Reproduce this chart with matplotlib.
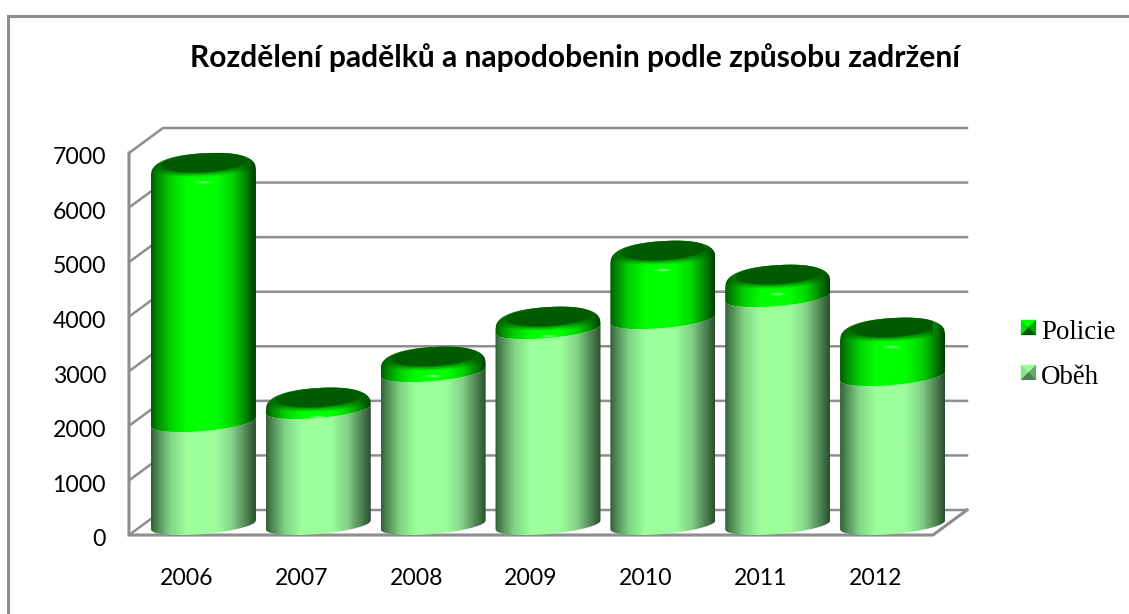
#!/usr/bin/python3
import numpy as np
import matplotlib
matplotlib.use('Agg')
import matplotlib.pyplot as plt
from matplotlib.colors import LinearSegmentedColormap
from matplotlib.legend_handler import HandlerBase
from matplotlib.patches import PathPatch, Patch, Polygon
from matplotlib.path import Path
from matplotlib.transforms import ScaledTranslation

years = ['2006', '2007', '2008', '2009', '2010', '2011', '2012']
obeh = [1886, 2125, 2802, 3590, 3773, 4176, 2729]
policie = [4614, 73, 147, 91, 1117, 274, 751]
yticks = [0, 1000, 2000, 3000, 4000, 5000, 6000, 7000]

W, H = 1129, 614
plt.rcParams['font.family'] = ['Lato', 'DejaVu Sans']

fig = plt.figure(figsize=(W / 100, H / 100), dpi=100, facecolor='white')
ax = fig.add_axes([129 / W, 1 - 535 / H, 804 / W, 382 / H])
ax.set_xlim(-0.5, 6.5)
ax.set_ylim(0, 7000)
for s in ax.spines.values():
    s.set_visible(False)

# pixel -> data
PX = 7 / 804
PY = 7000 / 382
depth_x = 34 * PX
depth_y = 25 * PY
bar_w = 105 * PX

GRID = '#8e8e8e'
ax.set_xticks(range(len(years)), years)
ax.set_yticks(yticks)
ax.tick_params(length=0, labelsize=16.6, colors='black')
ax.tick_params(axis='x', pad=24)
ax.tick_params(axis='y', pad=16.5)
# y labels sit a little under their gridline level
for lab in ax.get_yticklabels():
    lab.set_transform(lab.get_transform() + ScaledTranslation(0, -2 / 72, fig.dpi_scale_trans))

# walls
for v in yticks:
    xs = [-0.5, -0.5 + depth_x, 6.5 + depth_x]
    ys = [v, v + depth_y, v + depth_y]
    ax.plot(xs, ys, color=GRID, lw=1.8, clip_on=False, zorder=1)
ax.plot([-0.5, -0.5, 6.5, 6.5 + depth_x], [7000, 0, 0, depth_y], color=GRID, lw=2.2,
        clip_on=False, zorder=1, solid_joinstyle='miter')

# cylinder shading
stops = [0, 0.06, 0.18, 0.34, 0.62, 0.78, 0.92, 1]
dark_g = LinearSegmentedColormap.from_list('g', list(zip(stops, [
    '#005a00', '#008a00', '#00d000', '#00ff00', '#00ff00', '#00d400', '#007a00', '#003c00'])))
dark_l = LinearSegmentedColormap.from_list('l', list(zip(stops, [
    '#33603a', '#4f8a55', '#80d484', '#9cff9c', '#9cff9c', '#82cf86', '#4d7d50', '#2a4f2e'])))
shade = np.linspace(0, 1, 256)[None, :]

t = np.linspace(-1, 1, 161)


def curve(cx, v):
    # front edge of a slice, v is its lowest point
    return cx + t * bar_w / 2, v + (10 - 9 * np.sqrt(1 - t ** 2) + 4.5 * t) * PY


def cap_h(u):
    # height of the rounded top above the front edge, in px
    return 8 + 3 * u + 19 * np.clip(1 - np.abs(u) ** 2.4, 0, 1) ** (1 / 2.4)


def cap(cx, v):
    return cx + t * bar_w / 2, v + cap_h(t) * PY


def paint(xl, yl, xu, yu, cmap, cx, z):
    vx = np.r_[xl, xu[::-1], xl[0]]
    vy = np.r_[yl, yu[::-1], yl[0]]
    patch = PathPatch(Path(np.c_[vx, vy]), fc='none', ec='none', transform=ax.transData)
    ax.add_patch(patch)
    im = ax.imshow(shade, cmap=cmap, aspect='auto', interpolation='bilinear', zorder=z,
                   extent=(cx - bar_w / 2, cx + bar_w / 2, min(vy), max(vy)))
    im.set_clip_path(patch)
    im.set_clip_box(fig.bbox)


for i in range(len(years)):
    cx = i + depth_x / 2
    z = 3 + i
    top = obeh[i] + policie[i]

    xl, yl = curve(cx, 0)
    xu, yu = curve(cx, obeh[i])
    paint(xl, yl, xu, yu, dark_l, cx, z)

    xc, yc = cap(cx, top)
    paint(xu, yu, xc, yc, dark_g, cx, z + 0.1)

    # top face, soft edge
    mid_y = top + 17.5 * PY
    ang = np.linspace(0, 2 * np.pi, 120)
    for grow, a, col in [(1.42, 0.16, '#004c00'), (1.28, 0.22, '#004c00'), (1.14, 0.4, '#006000'),
                         (1.0, 1, '#005a00')]:
        ex = cx + 0.6 * PX + grow * 43 * PX * np.cos(ang)
        ey = mid_y + (grow * 9.6 * np.sin(ang) + 2.6 * np.cos(ang)) * PY
        u = np.clip((ex - cx) / (bar_w / 2), -1, 1)
        ey = np.minimum(ey, top + cap_h(u) * PY)
        ex = np.clip(ex, cx - bar_w / 2, cx + bar_w / 2)
        ax.fill(ex, ey, color=col, alpha=a, lw=0, zorder=z + 0.2)

    # small highlight on the rim
    for grow, a in [(1, 0.16), (0.55, 0.28)]:
        ax.fill(cx + grow * 9 * PX * np.cos(ang), top + (-2 + grow * 1.6 * np.sin(ang)) * PY,
                color='white', alpha=a, lw=0, zorder=z + 0.3)

ax.set_xlim(-0.5, 6.5)
ax.set_ylim(0, 7000)
ax.patch.set_alpha(0)

# frame: left and top only
fig.add_artist(plt.Line2D([8 / W, 8 / W, 1], [0, 1 - 15.5 / H, 1 - 15.5 / H], color='#8e8e8e', lw=2.2,
                          solid_joinstyle='miter'))

fig.text(575 / W, 1 - 58 / H, 'Rozdělení padělků a napodobenin podle způsobu zadržení', ha='center', va='center',
         fontsize=21.6, fontweight='bold', color='black')


class Pyramid(HandlerBase):
    def create_artists(self, legend, orig, x0, y0, w, h, fontsize, trans):
        cols = orig.shades
        s = 15 * 0.72
        ox, oy = x0, y0 + h / 2 - s / 2 + 1.5
        m = (ox + s / 2, oy + s / 2)
        a, b, d, e = (ox, oy), (ox + s, oy), (ox + s, oy + s), (ox, oy + s)
        out = []
        for pts, col in zip([(e, d, m), (a, e, m), (b, d, m), (a, b, m)], cols):
            out.append(Polygon(list(pts), closed=True, fc=col, ec=col, lw=0.2, transform=trans))
        return out


h1 = Patch(facecolor='#00ff00')
h1.shades = ['#00ff00', '#00e000', '#00a000', '#005c00']
h2 = Patch(facecolor='#9cff9c')
h2.shades = ['#9cff9c', '#88e088', '#6aa76a', '#4a7f4f']
leg = fig.legend([h1, h2], ['Policie', 'Oběh'], handler_map={Patch: Pyramid()}, frameon=False,
                 loc='upper left', bbox_to_anchor=(1021 / W, 1 - 320 / H), borderaxespad=0, borderpad=0,
                 handlelength=0.74, handletextpad=0, labelspacing=0.74,
                 prop={'family': 'Liberation Serif', 'size': 19.4})

fig.savefig('out.png', dpi=100, facecolor='white')
